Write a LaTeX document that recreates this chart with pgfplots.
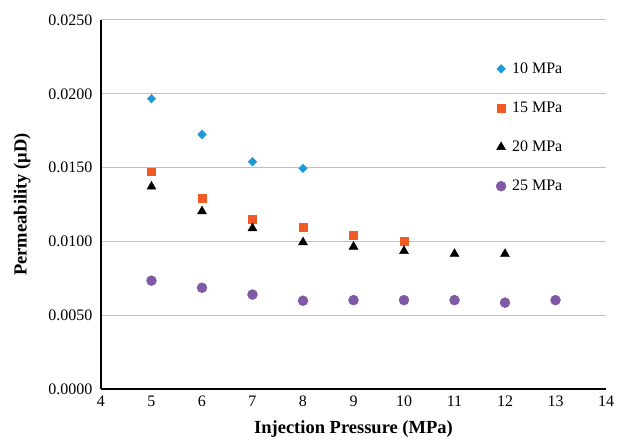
\documentclass[border=0pt]{standalone}
\usepackage{pgfplots}
\pgfplotsset{compat=1.18}
\usepackage{fontspec}
\setmainfont{Liberation Serif}
\newfontfamily\tnr{Liberation Serif}
\definecolor{cBlue}{HTML}{1A9BD7}
\definecolor{cOrange}{HTML}{F15A24}
\definecolor{cPurple}{HTML}{7F58A6}
\definecolor{cGrid}{HTML}{BFBFBF}
\begin{document}
\begin{tikzpicture}
  \begin{axis}[
    scale only axis, width=505pt, height=369pt,
    xmin=4, xmax=14, xtick={4,5,...,14},
    ymin=0, ymax=0.025, ytick={0,0.005,0.01,0.015,0.02,0.025},
    yticklabel style={xshift=-5pt, /pgf/number format/.cd, fixed, fixed zerofill, precision=4},
    scaled y ticks=false,
    /pgf/number format/assume math mode=true,
    ticklabel style={font=\tnr\fontsize{16}{18}\selectfont},
    xticklabel style={yshift=-3pt},
    axis x line*=bottom, axis y line*=left,
    axis line style={black, line width=1.3pt, -},
    major tick length=0pt,
    ymajorgrids, grid style={cGrid, line width=1pt},
    xlabel={\textbf{Injection Pressure (MPa)}},
    ylabel={\textbf{Permeability (μD)}},
    label style={font=\tnr\fontsize{18.5}{20}\selectfont},
    xlabel style={yshift=-7pt},
    ylabel style={yshift=11pt},
    legend style={at={(0.782,0.89)}, anchor=north west, draw=none, fill=none,
                  font=\tnr\fontsize{16}{18}\selectfont, row sep=23pt, inner sep=0pt,
                  nodes={inner xsep=6pt}},
    legend cell align=left,
    clip=false,
  ]
    \addplot[only marks, mark=diamond*, mark size=4.3pt, color=cBlue,
             mark options={xscale=1.33}]
      coordinates {(5,0.01967) (6,0.01724) (7,0.01540) (8,0.01495)};
    \addplot[only marks, mark=square*, mark size=3.9pt, color=cOrange]
      coordinates {(5,0.01472) (6,0.01292) (7,0.01152) (8,0.01095) (9,0.01043) (10,0.01000)};
    \addplot[only marks, mark=triangle*, mark size=5.2pt, color=black]
      coordinates {(5,0.01371) (6,0.01204) (7,0.01089) (8,0.00994) (9,0.00964)
                   (10,0.00935) (11,0.00915) (12,0.00915)};
    \addplot[only marks, mark=*, mark size=5pt, color=cPurple]
      coordinates {(5,0.00734) (6,0.00686) (7,0.00640) (8,0.00598) (9,0.00602)
                   (10,0.00602) (11,0.00602) (12,0.00585) (13,0.00602)};
    \legend{10 MPa, 15 MPa, 20 MPa, 25 MPa}
  \end{axis}
  \path[use as bounding box] (-101pt,-50pt) rectangle (523pt,389pt);
\end{tikzpicture}
\end{document}
